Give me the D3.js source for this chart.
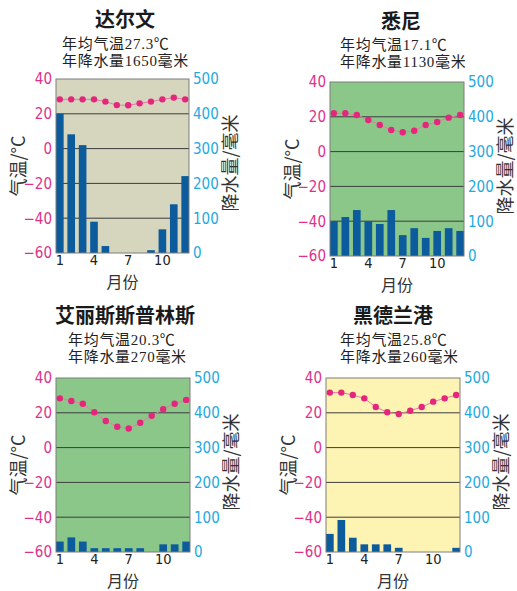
<!DOCTYPE html>
<html><head><meta charset="utf-8">
<script src="https://cdn.jsdelivr.net/npm/d3@7"></script>
<style>
body{margin:0;background:#fff;}
svg{display:block;}
.tick-l{fill:#e0308a;}
.tick-r{fill:#23a9e0;}
</style></head>
<body>
<svg id="chart" width="517" height="591"></svg>
<script>
const months = [1,2,3,4,5,6,7,8,9,10,11,12];
const monthTicks = [1,4,7,10];
const tempTicks = [40,20,0,-20,-40,-60];
const precTicks = [500,400,300,200,100,0];
const gridTemps = [20,0,-20,-40];

const cityNames = ["达尔文","悉尼","艾丽斯斯普林斯","黑德兰港"];
const annualTemp = ["年均气温27.3℃","年均气温17.1℃","年均气温20.3℃","年均气温25.8℃"];
const annualPrec = ["年降水量1650毫米","年降水量1130毫米","年降水量270毫米","年降水量260毫米"];

const darwinTemp = [28.3,28.3,28.3,28.3,27.0,25.0,24.9,26.0,27.0,28.3,29.3,28.3];
const darwinPrec = [400,341,310,90,20,0,0,0,8,68,140,221];
const sydneyTemp = [22.0,22.0,21.0,18.2,15.3,12.4,11.1,12.0,15.3,17.0,19.5,21.0];
const sydneyPrec = [100,112,132,100,92,132,60,80,52,72,80,72];
const aliceTemp = [28.3,26.8,25.2,20.3,15.3,12.0,11.0,14.3,18.3,22.0,25.2,27.4];
const alicePrec = [30,42,30,11,11,11,11,11,0,22,22,30];
const hedlandTemp = [31.6,31.6,30.2,28.3,23.3,20.3,19.3,21.2,23.3,26.4,28.3,30.2];
const hedlandPrec = [52,92,41,22,22,22,12,0,0,0,0,12];

const bgColors = ["#d5d6bd","#8cc78a","#8cc78a","#fdf3b2"];

const panels = [
  {temp:darwinTemp, prec:darwinPrec, x0:56, x1:189, y0:79, y1:253, tx:125, ty:27, sx:62, sy:49},
  {temp:sydneyTemp, prec:sydneyPrec, x0:330, x1:464, y0:82, y1:256, tx:401, ty:29, sx:340, sy:50},
  {temp:aliceTemp, prec:alicePrec, x0:56, x1:190, y0:378, y1:552, tx:125, ty:323, sx:68, sy:345},
  {temp:hedlandTemp, prec:hedlandPrec, x0:326, x1:460, y0:378, y1:552, tx:393, ty:323, sx:340, sy:345}
];

const svg = d3.select("#chart");
const cjk = "'Noto Sans CJK SC', sans-serif";
const serif = "'Liberation Serif', 'Noto Sans CJK SC', serif";
const narrow = "'Liberation Sans Narrow', 'DejaVu Sans Condensed', 'Liberation Sans', sans-serif";

panels.forEach((p, i) => {
  const g = svg.append("g");
  const x = d3.scaleBand().domain(months).range([p.x0, p.x1]).paddingInner(0.33).paddingOuter(0);
  const yT = d3.scaleLinear().domain([-60, 40]).range([p.y1, p.y0]);
  const yP = d3.scaleLinear().domain([0, 500]).range([p.y1, p.y0]);

  // title & subtitle
  g.append("text").attr("x", p.tx).attr("y", p.ty).attr("text-anchor","middle")
    .style("font-family", cjk).style("font-weight","bold").style("font-size","20px").style("fill","#1a1a1a")
    .text(cityNames[i]);
  g.append("text").attr("x", p.sx).attr("y", p.sy)
    .style("font-family", serif).style("font-size","15px").style("letter-spacing","0.7px").style("fill","#222")
    .text(annualTemp[i]);
  g.append("text").attr("x", p.sx).attr("y", p.sy + 17)
    .style("font-family", serif).style("font-size","15px").style("letter-spacing","0.7px").style("fill","#222")
    .text(annualPrec[i]);

  // background
  g.append("rect").attr("x", p.x0).attr("y", p.y0).attr("width", p.x1 - p.x0).attr("height", p.y1 - p.y0)
    .attr("fill", bgColors[i]);

  // grid
  g.selectAll(".grid").data(gridTemps).join("line")
    .attr("x1", p.x0).attr("x2", p.x1)
    .attr("y1", d => yT(d)).attr("y2", d => yT(d))
    .attr("stroke", "#3c3c3c").attr("stroke-width", 1);

  // bars
  g.selectAll(".bar").data(months).join("rect")
    .attr("x", d => x(d)).attr("width", x.bandwidth())
    .attr("y", (d, j) => yP(p.prec[j])).attr("height", (d, j) => yP(0) - yP(p.prec[j]))
    .attr("fill", "#0b5b9d");

  // frame
  g.append("rect").attr("x", p.x0).attr("y", p.y0).attr("width", p.x1 - p.x0).attr("height", p.y1 - p.y0)
    .attr("fill", "none").attr("stroke", "#7d7d7d").attr("stroke-width", 1);

  // temp line & dots
  const cx = d => x(d) + x.bandwidth() / 2;
  g.append("path").datum(months)
    .attr("d", d3.line().x(cx).y((d, j) => yT(p.temp[j])))
    .attr("fill","none").attr("stroke","#e77aa5").attr("stroke-width",1);
  g.selectAll(".dot").data(months).join("circle")
    .attr("cx", cx).attr("cy", (d, j) => yT(p.temp[j])).attr("r", 3.2)
    .attr("fill", "#e5267d");

  // axes
  const axL = g.append("g").attr("transform", `translate(${p.x0},0)`)
    .call(d3.axisLeft(yT).tickValues(tempTicks).tickSize(0).tickPadding(4));
  axL.select(".domain").remove();
  axL.selectAll("text").attr("class","tick-l").style("font-family", narrow).style("font-size","15px");

  const axR = g.append("g").attr("transform", `translate(${p.x1},0)`)
    .call(d3.axisRight(yP).tickValues(precTicks).tickSize(0).tickPadding(4));
  axR.select(".domain").remove();
  axR.selectAll("text").attr("class","tick-r").style("font-family", narrow).style("font-size","15px");

  const axB = g.append("g").attr("transform", `translate(0,${p.y1})`)
    .call(d3.axisBottom(x).tickValues(monthTicks).tickSize(0).tickPadding(2));
  axB.select(".domain").remove();
  axB.selectAll("text").style("fill","#222").style("font-family", narrow).style("font-size","14.5px");

  // axis titles
  const midY = (p.y0 + p.y1) / 2;
  g.append("text").attr("transform", `translate(${p.x0 - 37},${midY}) rotate(-90)`)
    .attr("text-anchor","middle").attr("dy","0.35em")
    .style("font-family", cjk).style("font-size","18px").style("fill","#333")
    .text("气温/°C");
  g.append("text").attr("transform", `translate(${p.x1 + 42},${midY - 3}) rotate(-90)`)
    .attr("text-anchor","middle").attr("dy","0.35em")
    .style("font-family", cjk).style("font-size","18px").style("fill","#333")
    .text("降水量/毫米");
  g.append("text").attr("x", (p.x0 + p.x1) / 2).attr("y", p.y1 + 35)
    .attr("text-anchor","middle")
    .style("font-family", cjk).style("font-size","16px").style("fill","#333")
    .text("月份");
});
</script>
</body></html>
